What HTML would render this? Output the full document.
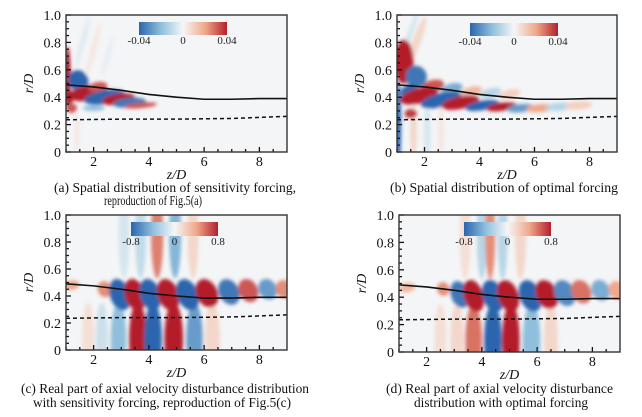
<!DOCTYPE html>
<html><head><meta charset="utf-8">
<style>
html,body{margin:0;padding:0;background:#fff;}
svg{display:block;font-family:"Liberation Serif",serif;}
</style></head>
<body>
<svg id="fig" width="642" height="417" viewBox="0 0 642 417" xmlns="http://www.w3.org/2000/svg">
<defs>
<filter id="blur" x="-50%" y="-50%" width="200%" height="200%"><feGaussianBlur stdDeviation="1.8"/></filter>
<linearGradient id="cmap" x1="0" x2="1" y1="0" y2="0">
<stop offset="0" stop-color="#2b65ad"/><stop offset="0.25" stop-color="#8fbfdc"/><stop offset="0.5" stop-color="#f5f6f7"/><stop offset="0.75" stop-color="#f0a98a"/><stop offset="1" stop-color="#b41f2c"/>
</linearGradient>
</defs>
</svg>
<script>
// shared tick labels
const zTicks=[2,4,6,8];
const rTicks=[0,0.2,0.4,0.6,0.8,1.0];
const rTickLabels=["0","0.2","0.4","0.6","0.8","1.0"];
// boundary lines (z, r)
const solidZ=[1,2,3,4,5,6,7,8,9];
const solidR=[0.49,0.475,0.45,0.42,0.40,0.385,0.385,0.39,0.39];
const dashZ=[1,3,5,7,9];
const dashR=[0.235,0.24,0.24,0.245,0.26];
// panel a blobs: z, r, half-width z, half-height r, angle, value
const aZ=[1.6,2.0,2.5,1.4,1.05,1.45,1.8,2.15,2.4,1.1,2.9,3.3,3.7,1.2,2.0];
const aR=[0.8,0.75,0.7,0.15,0.55,0.52,0.43,0.475,0.40,0.40,0.385,0.36,0.34,0.32,0.32];
const aW=[0.1,0.1,0.1,0.08,0.12,0.35,0.7,0.35,0.75,0.18,0.6,0.6,0.6,0.2,0.4];
const aH=[0.2,0.2,0.15,0.15,0.22,0.08,0.055,0.035,0.05,0.05,0.04,0.035,0.02,0.035,0.02];
const aA=[15,15,15,0,0,-25,-10,-10,-10,0,-8,-5,-5,0,0];
const aV=[-0.1,0.1,-0.07,0.1,1,-1,1,0.8,-1,1,1,-0.9,0.8,0.8,-0.5];
// panel b blobs
const bZ=[1.7,1.45,1.6,2.1,2.6,1.25,1.05,1.7,2.3,3.0,3.7,4.4,5.1,1.45,1.8,2.6,3.3,4.1,4.8,5.5,6.2,6.9,7.6,1.5];
const bR=[0.8,0.85,0.15,0.15,0.15,0.66,0.2,0.55,0.48,0.46,0.44,0.43,0.42,0.44,0.41,0.38,0.36,0.34,0.33,0.32,0.32,0.33,0.34,0.28];
const bW=[0.15,0.1,0.12,0.12,0.12,0.35,0.1,0.38,0.42,0.4,0.4,0.4,0.4,0.32,0.7,0.75,0.7,0.62,0.55,0.5,0.5,0.5,0.5,0.22];
const bH=[0.2,0.2,0.2,0.2,0.2,0.16,0.32,0.08,0.045,0.04,0.035,0.035,0.035,0.05,0.055,0.05,0.045,0.035,0.03,0.03,0.03,0.03,0.03,0.035];
const bA=[20,20,0,0,0,0,0,-25,-15,-15,-15,-15,-15,-20,-15,-15,-12,-10,-8,-6,-5,-5,-5,0];
const bV=[0.2,-0.15,0.2,-0.15,0.1,1,-1,-0.9,0.8,-0.6,0.4,-0.3,0.25,-1,1,-1,1,-1,1,-0.7,0.5,-0.3,0.25,0.9];
// panel c blobs
const cZ=[3.1,3.7,4.3,4.95,5.6,1.8,2.3,2.9,3.6,4.15,4.9,5.65,6.3,1.2,2.4,2.95,3.5,4.05,4.7,5.4,6.1,6.9,7.6,8.3,8.9];
const cR=[0.85,0.85,0.85,0.85,0.85,0.08,0.08,0.08,0.08,0.08,0.08,0.08,0.08,0.48,0.45,0.41,0.41,0.41,0.41,0.41,0.42,0.43,0.44,0.45,0.45];
const cW=[0.2,0.2,0.22,0.22,0.2,0.22,0.22,0.28,0.32,0.32,0.34,0.3,0.27,0.3,0.25,0.36,0.37,0.37,0.38,0.38,0.38,0.36,0.34,0.32,0.3];
const cH=[0.32,0.32,0.32,0.32,0.32,0.27,0.27,0.27,0.27,0.27,0.27,0.27,0.27,0.035,0.06,0.12,0.12,0.12,0.12,0.12,0.11,0.1,0.09,0.08,0.07];
const cA=[0,0,0,0,0,0,0,0,0,0,0,0,0,-10,-20,-18,-18,-18,-20,-22,-25,-28,-28,-28,-28];
const cV=[-0.15,-0.25,0.65,-0.55,0.2,0.15,-0.2,-0.5,1,-1,1,-0.7,0.2,0.5,0.6,-1,1,-1,1,-1,1,-0.9,0.8,-0.7,0.6];
// panel d blobs
const dZ=[3.4,4.0,4.3,4.75,5.4,2.5,3.1,3.7,4.4,5.05,5.8,6.5,1.3,2.6,3.2,3.7,4.4,4.95,5.75,6.35,7.0,7.6,8.3,8.9];
const dR=[0.85,0.85,0.85,0.85,0.85,0.08,0.08,0.08,0.08,0.08,0.08,0.08,0.47,0.46,0.42,0.41,0.41,0.41,0.41,0.42,0.43,0.44,0.45,0.45];
const dW=[0.2,0.18,0.18,0.18,0.2,0.22,0.24,0.3,0.32,0.32,0.32,0.25,0.3,0.22,0.32,0.35,0.37,0.37,0.38,0.38,0.36,0.34,0.32,0.3];
const dH=[0.32,0.32,0.32,0.32,0.32,0.27,0.27,0.27,0.27,0.27,0.27,0.27,0.035,0.05,0.1,0.12,0.12,0.12,0.12,0.11,0.1,0.09,0.08,0.07];
const dA=[0,0,0,0,0,0,0,0,0,0,0,0,-10,-15,-18,-18,-18,-20,-22,-25,-28,-28,-28,-28];
const dV=[0.15,-0.3,0.6,-0.3,0.2,0.15,0.2,0.7,-1,1,-0.5,0.2,0.4,0.6,-0.9,1,-1,1,-1,1,-0.8,0.7,-0.6,0.5];

const NS="http://www.w3.org/2000/svg";
const svg=document.getElementById('fig');
function mk(tag,attrs,parent){const e=document.createElementNS(NS,tag);for(const k in attrs)e.setAttribute(k,attrs[k]);(parent||svg).appendChild(e);return e;}
function lerp(a,b,t){return a+(b-a)*t;}
const stops=[[-1,[43,101,173]],[-0.5,[143,191,220]],[0,[245,246,247]],[0.5,[240,169,138]],[1,[180,31,44]]];
function color(v){v=Math.max(-1,Math.min(1,v));for(let i=0;i<4;i++){const a=stops[i],b=stops[i+1];if(v<=b[0]){const t=(v-a[0])/(b[0]-a[0]);return 'rgb('+a[1].map((c,j)=>Math.round(lerp(c,b[1][j],t))).join(',')+')';}}return 'rgb(180,31,44)';}

function panel(id,L,R,T,B,Z,Rr,W,H,A,V,cb,cbLabels,ylabX){
  const g=mk('g',{});
  
  
  const xs=z=>L+(z-1)/8*(R-L), ys=r=>B-r*(B-T);
  const cp=mk('clipPath',{id:'clip'+id},g);
  mk('rect',{x:L,y:T,width:R-L,height:B-T},cp);
  const bg=mk('rect',{x:L,y:T,width:R-L,height:B-T,fill:'#f4f5f7'},g);
  
  
  const hg=mk('g',{'clip-path':'url(#clip'+id+')'},g);
  const hb=mk('g',{filter:'url(#blur)'},hg);
  
  
  for(let i=0;i<Z.length;i++){
    const cx=xs(Z[i]),cy=ys(Rr[i]);
    const el=mk('ellipse',{cx:cx,cy:cy,rx:W[i]*(R-L)/8,ry:H[i]*(B-T),fill:color(V[i]),transform:'rotate('+A[i]+' '+cx+' '+cy+')'},hb);
    
    
  }
  const sp=solidZ.map((z,i)=>xs(z)+','+ys(solidR[i])).join(' ');
  const sl=mk('polyline',{points:sp,fill:'none',stroke:'#111','stroke-width':1.6},hg);
  
  
  const dp=dashZ.map((z,i)=>xs(z)+','+ys(dashR[i])).join(' ');
  const dl=mk('polyline',{points:dp,fill:'none',stroke:'#111','stroke-width':1.5,'stroke-dasharray':'4,3'},hg);
  
  
  const cbr=mk('rect',{x:cb[0],y:cb[1],width:cb[2]-cb[0],height:cb[3]-cb[1],fill:'url(#cmap)'},g);
  
  
  const cxs=[cb[0],(cb[0]+cb[2])/2,cb[2]];
  cbLabels.forEach((t,i)=>{const e=mk('text',{x:cxs[i],y:cb[3]+9,'font-size':11,'text-anchor':'middle',fill:'#222'},g);e.textContent=t;
    
    });
  for(let k=0;k<=20;k++){const r=k*0.05,y=ys(r),len=(k%4===0)?5:3;mk('line',{x1:L,x2:L+len,y1:y,y2:y,stroke:'#111','stroke-width':1.3},g);}
  for(let k=2;k<=17;k++){const z=k*0.5,x=xs(z),len=(k%4===0)?5:3;mk('line',{x1:x,x2:x,y1:B,y2:B-len,stroke:'#111','stroke-width':1.3},g);}
  const fr=mk('rect',{x:L,y:T,width:R-L,height:B-T,fill:'none',stroke:'#333','stroke-width':1.4},g);
  
  
  zTicks.forEach(z=>{const e=mk('text',{x:xs(z),y:B+14,'font-size':14,'text-anchor':'middle',fill:'#111'},g);e.textContent=z;
    
    });
  rTicks.forEach((r,i)=>{const e=mk('text',{x:L-5,y:ys(r)+5,'font-size':14,'text-anchor':'end',fill:'#111'},g);e.textContent=rTickLabels[i];
    
    });
  const xl=mk('text',{x:(L+R)/2,y:B+27,'font-size':14,'font-style':'italic','text-anchor':'middle',fill:'#111'},g);xl.textContent='z/D';
  
  
  const yc=(T+B)/2;
  const yl=mk('text',{x:ylabX,y:yc,'font-size':14,'font-style':'italic','text-anchor':'middle',fill:'#111',transform:'rotate(-90 '+ylabX+' '+yc+')'},g);yl.textContent='r/D';
  
  
}
panel('a',66,287,15,152,aZ,aR,aW,aH,aA,aV,[139,22,227,35],['-0.04','0','0.04'],33);
panel('b',397,617,15,152,bZ,bR,bW,bH,bA,bV,[470,23,558,36],['-0.04','0','0.04'],364);
panel('c',66,287,215,350,cZ,cR,cW,cH,cA,cV,[131,222,218,236],['-0.8','0','0.8'],33);
panel('d',399,620,215,352,dZ,dR,dW,dH,dA,dV,[464,222,551,236],['-0.8','0','0.8'],366);

const caps=[
 ['(a)  Spatial distribution of sensitivity forcing,',54,192,242],
 ['reproduction of Fig.5(a)',104,205,98],
 ['(b)   Spatial distribution of optimal forcing',390,192,228],
 ['(c)  Real part of axial velocity disturbance distribution',21,393,288],
 ['with sensitivity forcing, reproduction of Fig.5(c)',33,407,258],
 ['(d)  Real part of axial velocity disturbance',386,393,227],
 ['distribution with optimal forcing',414,407,174]
];
caps.forEach(c=>{const e=mk('text',{x:c[1],y:c[2],'font-size':13.5,textLength:c[3],lengthAdjust:'spacingAndGlyphs',fill:'#111'});e.textContent=c[0];
  
  });
</script>
</body></html>
